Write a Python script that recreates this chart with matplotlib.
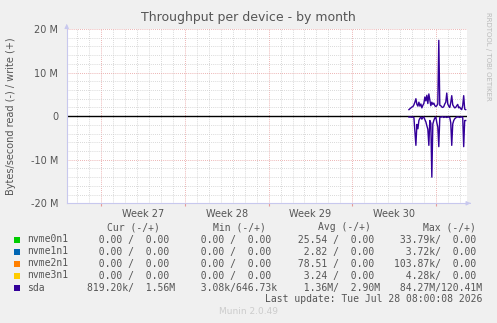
import numpy as np
import matplotlib
matplotlib.use("Agg")
import matplotlib.pyplot as plt

# time axis in days from left edge of the plot
days_shown = 33.5
week_starts = [2.9, 9.9, 16.9, 23.9, 30.9]
week_labels = ["Week 27", "Week 28", "Week 29", "Week 30"]

# sda samples, 2 hour steps, starting at day 28.64 (values in MB/s)
sda_t0 = 28.64
sda_write = [1.5, 1.7, 1.9, 2.1, 2.2, 2.6, 3.2, 4.0, 2.7, 2.3,
             3.2, 2.3, 2.8, 1.9, 2.5, 2.9, 4.4, 3.5, 4.8, 2.9,
             5.1, 3.7, 2.4, 3.2, 2.7, 3.0, 2.4, 2.2, 2.4, 2.8,
             17.4, 2.5, 2.4, 2.1, 2.0, 2.2, 2.8, 3.2, 5.3, 2.8,
             2.3, 2.0, 3.1, 4.7, 2.6, 2.2, 1.9, 2.0, 2.4, 2.7,
             1.9, 2.1, 1.7, 1.5, 2.4, 4.7, 1.6, 1.5]
sda_read = [0.2, 0.2, 0.2, 0.25, 0.2, 0.3, 3.5, 6.7, 1.9, 2.9,
            1.0, 0.5, 0.2, 0.7, 0.3, 0.2, 0.8, 1.3, 2.2, 3.0,
            6.7, 1.0, 1.6, 14.0, 1.8, 1.0, 0.4, 0.2, 1.5, 2.5,
            7.0, 0.3, 0.2, 0.2, 0.1, 0.3, 0.2, 0.2, 0.3, 0.2,
            0.2, 0.3, 1.5, 6.7, 1.8, 1.0, 0.6, 0.4, 0.2, 0.2,
            0.2, 0.3, 0.2, 0.2, 0.2, 7.0, 1.0, 1.0]

devices = ["nvme0n1", "nvme1n1", "nvme2n1", "nvme3n1", "sda"]
colors = ["#00CC00", "#0066B3", "#FF8000", "#FFCC00", "#330099"]
cur = ["  0.00 /  0.00 ", "  0.00 /  0.00 ", "  0.00 /  0.00 ", "  0.00 /  0.00 ", "819.20k/  1.56M"]
mins = ["  0.00 /  0.00 ", "  0.00 /  0.00 ", "  0.00 /  0.00 ", "  0.00 /  0.00 ", "  3.08k/646.73k"]
avgs = [" 25.54 /  0.00 ", "  2.82 /  0.00 ", " 78.51 /  0.00 ", "  3.24 /  0.00 ", "  1.36M/  2.90M"]
maxs = [" 33.79k/  0.00 ", "  3.72k/  0.00 ", "103.87k/  0.00 ", "  4.28k/  0.00 ", " 84.27M/120.41M"]

W, H = 497, 323
fig = plt.figure(figsize=(W / 100, H / 100), dpi=100, facecolor="#F0F0F0")

def px(x, y):
    return x / W, 1 - y / H

ax = fig.add_axes([66.7 / W, 1 - 203.3 / H, 400.3 / W, 174.3 / H])
ax.set_facecolor("white")
ax.set_xlim(0, days_shown)
ax.set_ylim(-20, 20)

# grid
minor_c, major_c = "#cccccc", "#e69a9a"
dots = (0, (1, 1.5))
for d in np.arange(week_starts[0] - 2, days_shown, 1.0):
    if min(abs(d - w) for w in week_starts) > 0.01:
        ax.axvline(d, color=minor_c, lw=0.6, ls=dots, zorder=0)
for w in week_starts:
    ax.axvline(w, color=major_c, lw=0.6, ls=dots, zorder=0)
for v in np.arange(-18, 20, 2):
    if v % 10:
        ax.axhline(v, color=minor_c, lw=0.6, ls=dots, zorder=0)
for v in [-10, 10, 20]:
    ax.axhline(v, color=major_c, lw=0.6, ls=dots, zorder=0)

ax.axhline(0, color="black", lw=1.0, zorder=2)

t = sda_t0 + np.arange(len(sda_write)) / 12.0
ax.plot(t, sda_write, color=colors[4], lw=1.0, zorder=3)
ax.plot(t, -np.array(sda_read), color=colors[4], lw=1.0, zorder=3)

for s in ["top", "right"]:
    ax.spines[s].set_visible(False)
for s in ["left", "bottom"]:
    ax.spines[s].set_color("#c8c8ee")
    ax.spines[s].set_linewidth(0.8)

ax.set_yticks([-20, -10, 0, 10, 20])
ax.set_yticklabels(["-20 M", "-10 M", "0", "10 M", "20 M"])
ax.set_xticks(week_starts)
ax.set_xticklabels([])
ax.set_xticks([(a + b) / 2 for a, b in zip(week_starts[:-1], week_starts[1:])], minor=True)
ax.set_xticklabels(week_labels, minor=True)
ax.tick_params(axis="y", length=0, pad=6, labelsize=7, labelcolor="#555555")
ax.tick_params(axis="x", which="major", length=2, color=major_c)
ax.tick_params(axis="x", which="minor", length=0, pad=4, labelsize=7, labelcolor="#555555")

# axis arrows
ax.annotate("", xy=(0, 1.045), xytext=(0, 1.0), xycoords="axes fraction",
            arrowprops=dict(arrowstyle="-|>", color="#c8c8ee", lw=0.8, mutation_scale=6))
ax.annotate("", xy=(1.016, 0), xytext=(1.0, 0), xycoords="axes fraction",
            arrowprops=dict(arrowstyle="-|>", color="#c8c8ee", lw=0.8, mutation_scale=6))

fig.text(*px(248, 18), "Throughput per device - by month", ha="center", va="center",
         fontsize=9, color="#555555")
fig.text(*px(11, 116), "Bytes/second read (-) / write (+)", ha="center", va="center",
         rotation=90, fontsize=7, color="#555555")
fig.text(*px(488, 56), "RRDTOOL / TOBI OETIKER", ha="center", va="center",
         rotation=270, fontsize=5, color="#bbbbbb")

mono = dict(family="DejaVu Sans Mono", fontsize=7, color="#555555", va="center")
for label, x in zip(["Cur (-/+)", "Min (-/+)", "Avg (-/+)", "Max (-/+)"], [107.3, 212.7, 318.3, 422.7]):
    fig.text(*px(x, 227.3), label, ha="left", **mono)

row_y = [239.5, 251.5, 263.5, 275.5, 287.8]
for i, name in enumerate(devices):
    y = row_y[i]
    fig.patches.append(plt.Rectangle(px(14, y + 3), 6 / W, 6 / H, transform=fig.transFigure,
                                     facecolor=colors[i], edgecolor="none"))
    fig.text(*px(26.7, y), name, ha="left", **mono)
    fig.text(*px(87.3, y), cur[i], ha="left", **mono)
    fig.text(*px(189.2, y), mins[i], ha="left", **mono)
    fig.text(*px(292.0, y), avgs[i], ha="left", **mono)
    fig.text(*px(394.0, y), maxs[i], ha="left", **mono)

fig.text(*px(482.3, 299.5), "Last update: Tue Jul 28 08:00:08 2026", ha="right", **mono)
fig.text(*px(248.7, 311.7), "Munin 2.0.49", ha="center", va="center", fontsize=6.5, color="#cccccc")

fig.savefig("out.png", dpi=100, facecolor=fig.get_facecolor())
